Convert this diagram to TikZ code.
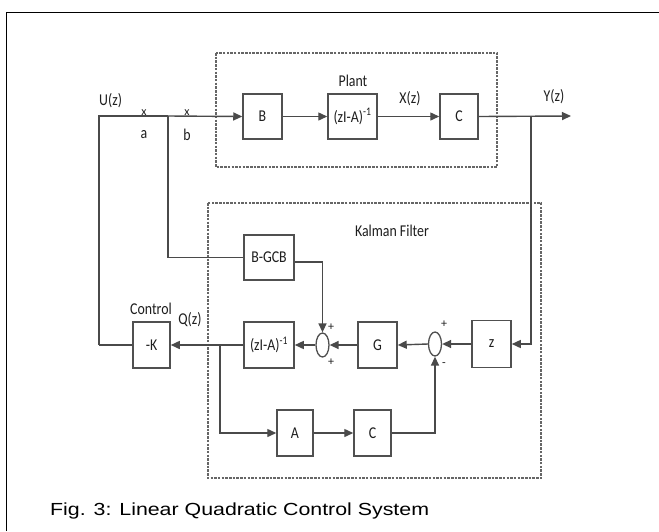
\documentclass[tikz,border=0pt]{standalone}
\usepackage{fontspec}
\usepackage{graphicx}
\setmainfont{Carlito}
\newfontfamily\capfont{Liberation Sans}
\usetikzlibrary{shapes.geometric,arrows.meta}
\definecolor{boxc}{HTML}{505050}
\definecolor{linec}{HTML}{4A4A4A}
\definecolor{dashc}{HTML}{666666}
\definecolor{txt}{HTML}{1E1E1E}
\newcommand\dt[1]{\scalebox{0.84}[1]{#1}}
\begin{document}
\begin{tikzpicture}[x=1pt,y=-1pt,
  every node/.style={font=\fontsize{16.5}{16.5}\selectfont, text=txt, inner sep=0pt},
  blk/.style={draw=boxc, line width=1.5pt, fill=white},
  wire/.style={draw=linec, line width=1.4pt},
  arr/.style={wire, -{Triangle[length=9pt,width=8pt]}},
  sumnode/.style={ellipse, draw=boxc, line width=1.3pt, minimum width=13pt, minimum height=24pt, inner sep=0pt},
  grp/.style={draw=dashc, line width=1.1pt, dash pattern=on 2.5pt off 1.2pt},
  sgn/.style={font=\fontsize{12}{12}\selectfont}
]
\useasboundingbox (0,0) rectangle (659,531);
% outer frame
\draw[line width=1.4pt] (6.5,531) -- (6.5,12.5) -- (659,12.5);

% group boxes
\draw[grp] (216,53) rectangle (497,167);
\draw[grp] (208,203) rectangle (541,478);
\node (plantlbl) at (353,81) {\dt{Plant}};
\node (kflbl) at (392,231) {\dt{Kalman Filter}};

% plant blocks
\node[blk, minimum width=39pt, minimum height=45pt] (B) at (262.5,116.5) {\dt{B}};
\node[blk, minimum width=49pt, minimum height=45pt] (inv1) at (352.5,116.5) {\dt{(zI-A)\textsuperscript{-1}}};
\node[blk, minimum width=38pt, minimum height=45pt] (C1) at (459,116.5) {\dt{C}};

% kalman blocks
\node[blk, minimum width=50pt, minimum height=45pt] (bgcb) at (269,257.5) {\dt{B-GCB}};
\node[blk, minimum width=50pt, minimum height=46pt] (inv2) at (269,345) {\dt{(zI-A)\textsuperscript{-1}}};
\node[blk, minimum width=39pt, minimum height=46pt] (G) at (377.5,345) {\dt{G}};
\node[blk, minimum width=39pt, minimum height=47pt] (Z) at (491.5,344) {\dt{z}};
\node[blk, minimum width=36pt, minimum height=46pt] (A) at (295,433) {\dt{A}};
\node[blk, minimum width=37pt, minimum height=46pt] (C2) at (372.5,433) {\dt{C}};
\node[sumnode] (s1) at (322.5,345) {};
\node[sumnode] (s2) at (435,344) {};

% control block
\node[blk, minimum width=37pt, minimum height=46pt] (K) at (151.5,345) {\dt{-K}};
\node (ctrl) at (151,309) {\dt{Control}};
\node (qz) at (190,320) {\dt{Q(z)}};

% signal labels
\node[anchor=west] (uz) at (99,101) {\dt{U(z)}};
\node (xz) at (410,99) {\dt{X(z)}};
\node (yz) at (554,97) {\dt{Y(z)}};
\node[sgn] (xa) at (144,113) {x};
\node[sgn] (xb) at (187,113) {x};
\node (la) at (144,135) {\dt{a}};
\node (lb) at (187,135) {\dt{b}};

% signs
\node[sgn] (p1) at (331,327) {+};
\node[sgn] (p2) at (331,362) {+};
\node[sgn] (p3) at (444,324) {+};
\node[sgn] (m1) at (444,365) {-};

% coordinates
\coordinate (u0) at (99,116);
\coordinate (u1) at (99,345);
\coordinate (v0) at (168,116);
\coordinate (v1) at (168,257.5);
\coordinate (yout) at (571,116);
\coordinate (ybr) at (531,116);
\coordinate (ybr2) at (531,344);
\coordinate (q0) at (220,345);
\coordinate (q1) at (220,433);
\coordinate (c2r) at (435,433);
\coordinate (bg1) at (322.5,262);

% plant path
\draw[wire] (u1) -- (u0) -- (v0);
\draw[arr] (v0) -- (B.west);
\draw[arr] (B.east) -- (inv1.west);
\draw[arr] (inv1.east) -- (C1.west);
\draw[arr] (C1.east) -- (yout);

% feed to kalman
\draw[wire] (v0) -- (v1) -- (bgcb.west);
\draw[arr] (bgcb.east |- bg1) -- (bg1) -- (s1.north);
\draw[arr] (ybr) -- (ybr2) -- (Z.east);
\draw[arr] (Z.west) -- (s2.east);
\draw[arr] (s2.west) -- (G.east);
\draw[arr] (G.west) -- (s1.east);
\draw[arr] (s1.west) -- (inv2.east);
\draw[arr] (inv2.west) -- (K.east);
\draw[wire] (K.west) -- (u1);
\draw[arr] (q0) -- (q1) -- (A.west);
\draw[arr] (A.east) -- (C2.west);
\draw[arr] (C2.east) -- (c2r) -- (s2.south);

% caption
\node[anchor=base west, font=\capfont\fontsize{17.5}{17.5}\selectfont, text=black] (cap) at (50,515) {\scalebox{1.22}[1]{Fig. 3: Linear Quadratic Control System}};
\end{tikzpicture}
\end{document}
